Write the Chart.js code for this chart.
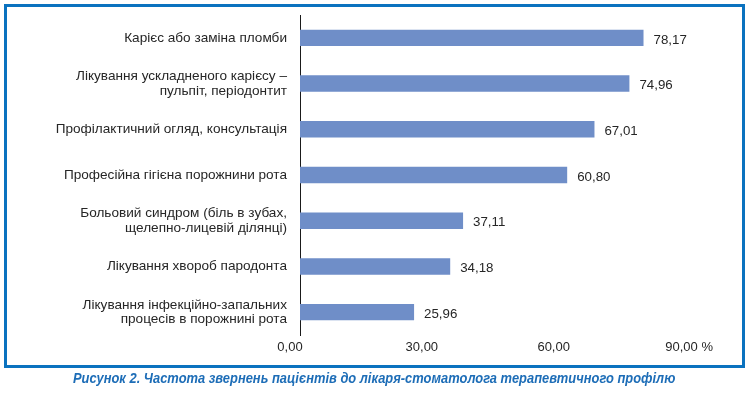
<!DOCTYPE html>
<html>
<head>
<meta charset="utf-8">
<script src="https://cdn.jsdelivr.net/npm/chart.js@4/dist/chart.umd.min.js"></script>
<style>
    html, body { margin: 0; padding: 0; background: #ffffff; }
    body { width: 749px; height: 397px; position: relative; overflow: hidden; }
    .frame {
        position: absolute; left: 4px; top: 4px; width: 741px; height: 364px;
        box-sizing: border-box; border: 3px solid #0a72bf;
    }
    #chart { position: absolute; left: 0; top: 0; }
    .caption {
        position: absolute; left: 73px; top: 370px;
        font: italic bold 14px "Liberation Sans", Arial, sans-serif;
        color: #1d6db7; white-space: nowrap; transform-origin: 0 0;
    }
</style>
</head>
<body>
<div class="frame"></div>
<canvas id="chart" width="749" height="397"></canvas>
<div class="caption" id="caption">Рисунок 2. Частота звернень пацієнтів до лікаря-стоматолога терапевтичного профілю</div>
<script>
// категорії (рядки з переносом — масиви)
const categories = [
    ['Карієс або заміна пломби'],
    ['Лікування ускладненого карієсу –', 'пульпіт, періодонтит'],
    ['Профілактичний огляд, консультація'],
    ['Професійна гігієна порожнини рота'],
    ['Больовий синдром (біль в зубах,', 'щелепно-лицевій ділянці)'],
    ['Лікування хвороб пародонта'],
    ['Лікування інфекційно-запальних', 'процесів в порожнині рота']
];
const values = [78.17, 74.96, 67.01, 60.80, 37.11, 34.18, 25.96];
const xTicks = [0, 30, 60, 90];

const fmt = v => v.toFixed(2).replace('.', ',');

// підписи значень справа від смуг
const valueLabels = {
    id: 'valueLabels',
    afterDatasetsDraw(chart) {
        const ctx = chart.ctx;
        const meta = chart.getDatasetMeta(0);
        ctx.save();
        ctx.font = '13.3px "Liberation Sans", Arial, sans-serif';
        ctx.fillStyle = '#262626';
        ctx.textAlign = 'left';
        ctx.textBaseline = 'middle';
        meta.data.forEach((bar, i) => {
            ctx.fillText(fmt(values[i]), bar.x + 10, bar.y + 2);
        });
        ctx.restore();
    }
};

const caption = document.getElementById('caption');
caption.style.transform = 'scaleX(' + (602 / caption.offsetWidth) + ')';

new Chart(document.getElementById('chart'), {
    type: 'bar',
    data: {
        labels: categories,
        datasets: [{
            data: values,
            backgroundColor: '#6f8ec8',
            borderWidth: 0,
            categoryPercentage: 1,
            barPercentage: 0.36
        }]
    },
    options: {
        indexAxis: 'y',
        responsive: false,
        animation: false,
        layout: { padding: { top: 15, right: 53.5, bottom: 40, left: 0 } },
        plugins: { legend: { display: false }, tooltip: { enabled: false } },
        scales: {
            x: {
                min: 0,
                max: 90,
                afterBuildTicks: scale => { scale.ticks = xTicks.map(v => ({ value: v })); },
                afterFit: scale => { scale.height = 22; },
                grid: { display: false, drawTicks: false },
                border: { display: false },
                ticks: {
                    padding: 5,
                    labelOffset: -10,
                    color: '#262626',
                    font: { family: '"Liberation Sans", Arial, sans-serif', size: 13 },
                    callback: v => v === 90 ? '  ' + fmt(v) + ' %' : fmt(v)
                }
            },
            y: {
                afterFit: scale => {
                    scale.width = 300;
                    scale.paddingTop = 0;
                    scale.paddingBottom = 0;
                },
                grid: { display: false, drawTicks: false },
                border: { display: true, color: '#1a1a1a', width: 1 },
                ticks: {
                    padding: 13,
                    color: '#262626',
                    font: { family: '"Liberation Sans", Arial, sans-serif', size: 13.6, lineHeight: 1.08 }
                }
            }
        }
    },
    plugins: [valueLabels]
});
</script>
</body>
</html>
